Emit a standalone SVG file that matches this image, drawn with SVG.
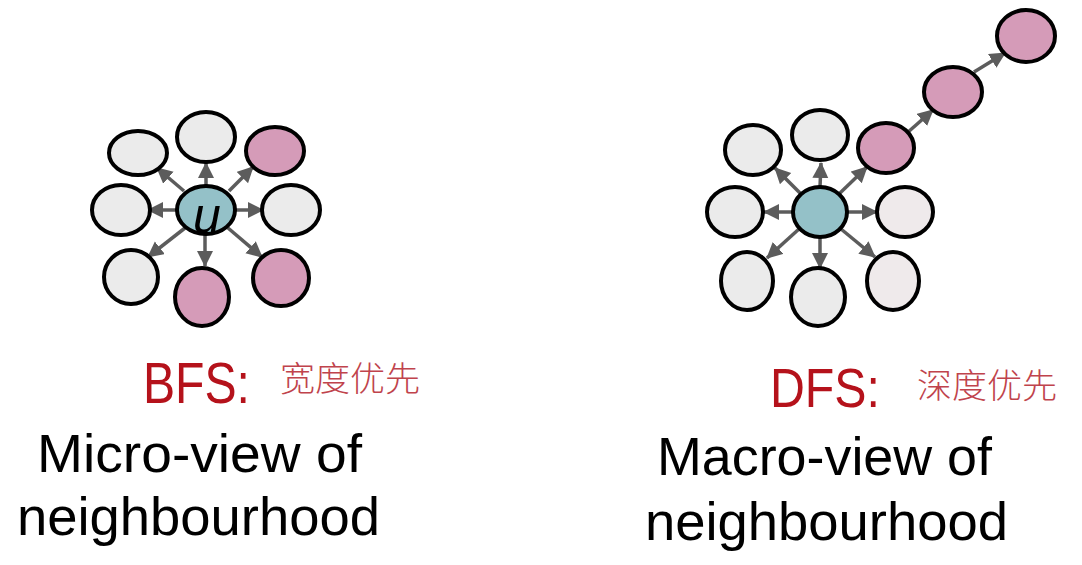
<svg xmlns="http://www.w3.org/2000/svg" width="1082" height="565" viewBox="0 0 1082 565">
<style>
.g{fill:#ebebeb;stroke:#000;stroke-width:4}
.p{fill:#d59bb8;stroke:#000;stroke-width:4}
.c{fill:#94c1c8;stroke:#000;stroke-width:4}
.a{stroke:#5c5c5c;stroke-width:3.5;fill:none;marker-end:url(#ah)}
.red{font-family:"Liberation Sans",Arial,sans-serif;fill:#b5121b}
.cn{font-family:"Noto Sans CJK SC",sans-serif;font-weight:300;fill:#c0434c;font-size:34px}
.bk{font-family:"Liberation Sans",Arial,sans-serif;fill:#000;font-size:54px}
</style>
<defs>
<marker id="ah" markerUnits="userSpaceOnUse" markerWidth="18" markerHeight="18" refX="15" refY="8" orient="auto">
<path d="M0,0 L16,8 L0,16 Z" fill="#5c5c5c"/>
</marker>
</defs>
<rect width="1082" height="565" fill="#fff"/>
<g id="connectors">
<line class="a" x1="206" y1="186" x2="206" y2="163"/>
<line class="a" x1="184" y1="191" x2="157" y2="168"/>
<line class="a" x1="229" y1="191" x2="253" y2="167"/>
<line class="a" x1="177" y1="210" x2="148" y2="210"/>
<line class="a" x1="235" y1="210" x2="263" y2="210"/>
<line class="a" x1="185" y1="228" x2="148" y2="257"/>
<line class="a" x1="205" y1="235" x2="205" y2="266"/>
<line class="a" x1="228" y1="228" x2="262" y2="257"/>
<line class="a" x1="820" y1="187" x2="821" y2="163"/>
<line class="a" x1="800" y1="193" x2="775" y2="168"/>
<line class="a" x1="840" y1="193" x2="867" y2="167"/>
<line class="a" x1="793" y1="212" x2="764" y2="212"/>
<line class="a" x1="848" y1="212" x2="877" y2="212"/>
<line class="a" x1="799" y1="229" x2="767" y2="258"/>
<line class="a" x1="820" y1="237" x2="820" y2="268"/>
<line class="a" x1="841" y1="229" x2="875" y2="257"/>
<line class="a" x1="907" y1="133" x2="933" y2="110"/>
<line class="a" x1="974" y1="72" x2="1005" y2="53"/>
</g>
<g id="bfs-top-left"><ellipse class="g" cx="138" cy="153" rx="29" ry="22"/></g>
<g id="bfs-top"><ellipse class="g" cx="206" cy="137" rx="29" ry="25"/></g>
<g id="bfs-top-right"><ellipse class="p" cx="275" cy="151" rx="29" ry="24"/></g>
<g id="bfs-left"><ellipse class="g" cx="121" cy="210" rx="29" ry="25"/></g>
<g id="bfs-right"><ellipse class="g" cx="291" cy="210" rx="29" ry="25"/></g>
<g id="bfs-bottom-left"><ellipse class="g" cx="131" cy="277" rx="27" ry="27"/></g>
<g id="bfs-bottom"><ellipse class="p" cx="202" cy="297" rx="27" ry="29"/></g>
<g id="bfs-bottom-right"><ellipse class="p" cx="281" cy="278" rx="28" ry="28"/></g>
<g id="bfs-u"><ellipse class="c" cx="206" cy="210" rx="29" ry="24"/>
<text x="207" y="233" font-family="Liberation Sans,Arial,sans-serif" font-style="italic" font-size="50" text-anchor="middle" fill="#000">u</text></g>
<g id="dfs-top-left"><ellipse class="g" cx="753" cy="150" rx="28" ry="25"/></g>
<g id="dfs-top"><ellipse class="g" cx="820" cy="135" rx="28" ry="25"/></g>
<g id="dfs-p1"><ellipse class="p" cx="886" cy="148" rx="28" ry="25"/></g>
<g id="dfs-p2"><ellipse class="p" cx="953" cy="92" rx="29" ry="25"/></g>
<g id="dfs-p3"><ellipse class="p" cx="1026" cy="36" rx="29" ry="26"/></g>
<g id="dfs-left"><ellipse class="g" cx="735" cy="212" rx="28" ry="25"/></g>
<g id="dfs-right"><ellipse class="g" cx="905" cy="212" rx="28" ry="25" style="fill:#efeaeb"/></g>
<g id="dfs-bottom-left"><ellipse class="g" cx="747" cy="281" rx="26" ry="29"/></g>
<g id="dfs-bottom"><ellipse class="g" cx="818" cy="297" rx="27" ry="29"/></g>
<g id="dfs-bottom-right"><ellipse class="g" cx="893" cy="281" rx="26" ry="29" style="fill:#efeaeb"/></g>
<g id="dfs-center"><ellipse class="c" cx="820" cy="212" rx="27" ry="25"/></g>
<g id="labels">
<text class="red" x="143" y="403" font-size="57" textLength="107" lengthAdjust="spacingAndGlyphs">BFS:</text>
<text class="cn" x="280" y="391" textLength="140" lengthAdjust="spacingAndGlyphs">宽度优先</text>
<text class="bk" x="37" y="472" textLength="325" lengthAdjust="spacingAndGlyphs">Micro-view of</text>
<text class="bk" x="17" y="535" textLength="363" lengthAdjust="spacingAndGlyphs">neighbourhood</text>
<text class="red" x="770" y="407" font-size="56" textLength="110" lengthAdjust="spacingAndGlyphs">DFS:</text>
<text class="cn" x="917" y="398" textLength="140" lengthAdjust="spacingAndGlyphs">深度优先</text>
<text class="bk" x="657" y="475" textLength="335" lengthAdjust="spacingAndGlyphs">Macro-view of</text>
<text class="bk" x="645" y="540" textLength="363" lengthAdjust="spacingAndGlyphs">neighbourhood</text>
</g>
</svg>
